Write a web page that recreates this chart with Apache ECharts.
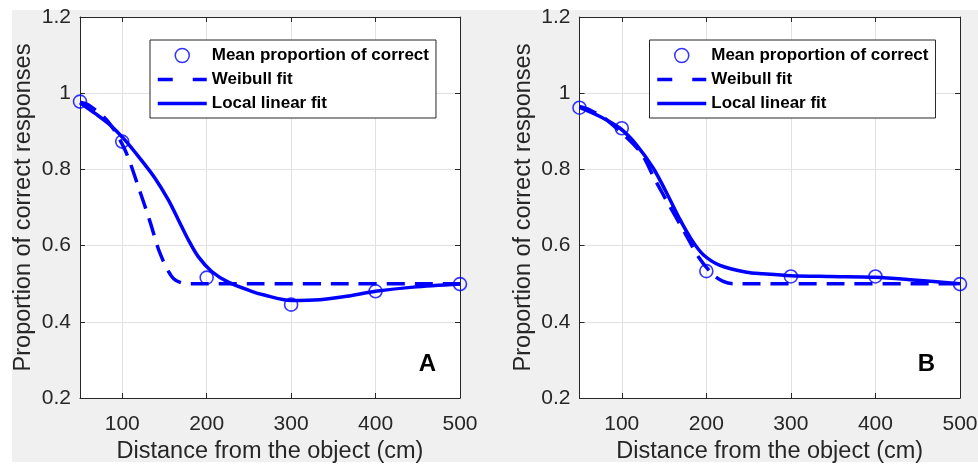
<!DOCTYPE html>
<html>
<head>
<meta charset="utf-8">
<script src="https://cdn.jsdelivr.net/npm/echarts@6/dist/echarts.min.js"></script>
<style>
  html, body { margin: 0; padding: 0; background: #ffffff; }
  #wrap { position: relative; width: 978px; height: 466px; background: #ffffff; overflow: hidden; }
  #bg { position: absolute; left: 12px; top: 10px; width: 966px; height: 452px; background: #f0f0f0; }
  #chart { position: absolute; left: 0; top: 0; width: 978px; height: 466px; }
</style>
</head>
<body>
<div id="wrap"><div id="bg"></div><div id="chart"></div></div>
<script>
// ---------------- data ----------------
const distances = [50, 100, 200, 300, 400, 500];
const meanA = [0.978, 0.873, 0.516, 0.445, 0.480, 0.499];
const meanB = [0.962, 0.908, 0.533, 0.519, 0.519, 0.499];

const weibullXA = [50, 60, 83.5, 103.3, 119, 132.9, 144.7, 158.6, 170.4, 182, 250, 350, 500];
const weibullYA = [0.976, 0.969, 0.925, 0.851, 0.755, 0.663, 0.580, 0.519, 0.502, 0.500, 0.500, 0.500, 0.500];

const localXA = [50, 67.8, 85.5, 103.3, 121, 138.8, 154.6, 166.4, 178.3, 190, 206, 225.6, 253.3, 267, 300, 334, 365.8, 400, 444.7, 500];
const localYA = [0.975, 0.947, 0.917, 0.877, 0.829, 0.777, 0.720, 0.668, 0.615, 0.571, 0.532, 0.504, 0.480, 0.471, 0.456, 0.458, 0.467, 0.480, 0.491, 0.499];

const weibullXB = [50, 62.4, 82.2, 121.5, 139.3, 157, 174.8, 190.5, 208.2, 220, 232, 350, 500];
const weibullYB = [0.965, 0.956, 0.930, 0.847, 0.773, 0.702, 0.633, 0.571, 0.523, 0.506, 0.500, 0.500, 0.500];

const localXB = [50, 74.2, 97.9, 117.6, 137.3, 153.1, 168.9, 182.7, 196.4, 216.2, 247.7, 267, 300, 346, 400, 444.7, 500];
const localYB = [0.963, 0.939, 0.908, 0.864, 0.803, 0.738, 0.668, 0.615, 0.576, 0.548, 0.530, 0.526, 0.521, 0.519, 0.517, 0.510, 0.500];

const xTickValues = [100, 200, 300, 400, 500];
const yTickValues = [0.2, 0.4, 0.6, 0.8, 1.0, 1.2];
const panelLetters = ['A', 'B'];
const legendNames = ['Mean proportion of correct', 'Weibull fit', 'Local linear fit'];
const xTitle = 'Distance from the object (cm)';
const yTitle = 'Proportion of correct responses';

// ---------------- styling ----------------
const FONT = '"Liberation Sans", Arial, Helvetica, sans-serif';
const AXIS = '#262626';
const GRIDC = '#e2e2e2';
const BLUE = '#0000ff';

function pairs(xs, ys) { return xs.map((x, i) => [x, ys[i]]); }

const grids = [
  { left: 80, right: 518, top: 17, bottom: 68 },
  { left: 579.5, right: 18, top: 17, bottom: 68 }
];
const legendLefts = [150, 649.5];
const letterPos = [[427.5, 364], [926.5, 364]];

const xAxes = [], yAxes = [], series = [], legends = [], graphics = [];
const seriesData = [
  { mean: meanA, wx: weibullXA, wy: weibullYA, lx: localXA, ly: localYA },
  { mean: meanB, wx: weibullXB, wy: weibullYB, lx: localXB, ly: localYB }
];

grids.forEach((g, gi) => {
  xAxes.push({
    type: 'value', gridIndex: gi, position: 'bottom', min: 50, max: 500,
    axisLine: { show: true, onZero: false, lineStyle: { color: AXIS, width: 1 } },
    axisTick: { show: true, inside: true, length: 5, customValues: xTickValues, lineStyle: { color: AXIS } },
    axisLabel: { show: true, customValues: xTickValues, fontSize: 21, color: AXIS, fontFamily: FONT, margin: 16 },
    splitLine: { show: true, lineStyle: { color: GRIDC, width: 1 } },
    name: xTitle, nameLocation: 'middle', nameGap: 41,
    nameTextStyle: { fontSize: 23.5, color: AXIS, fontFamily: FONT }
  });
  xAxes.push({
    type: 'value', gridIndex: gi, position: 'top', min: 50, max: 500,
    axisLine: { show: true, onZero: false, lineStyle: { color: AXIS, width: 1 } },
    axisTick: { show: true, inside: true, length: 5, customValues: xTickValues, lineStyle: { color: AXIS } },
    axisLabel: { show: false, customValues: xTickValues },
    splitLine: { show: false }
  });
  yAxes.push({
    type: 'value', gridIndex: gi, position: 'left', min: 0.2, max: 1.2, interval: 0.2,
    axisLine: { show: true, onZero: false, lineStyle: { color: AXIS, width: 1 } },
    axisTick: { show: true, inside: true, length: 5, lineStyle: { color: AXIS } },
    axisLabel: { show: true, fontSize: 21, color: AXIS, fontFamily: FONT, margin: 9,
      formatter: v => String(Math.round(v * 10) / 10) },
    splitLine: { show: true, lineStyle: { color: GRIDC, width: 1 } },
    name: yTitle, nameLocation: 'middle', nameGap: 44,
    nameTextStyle: { fontSize: 23.5, color: AXIS, fontFamily: FONT }
  });
  yAxes.push({
    type: 'value', gridIndex: gi, position: 'right', min: 0.2, max: 1.2, interval: 0.2,
    axisLine: { show: true, onZero: false, lineStyle: { color: AXIS, width: 1 } },
    axisTick: { show: true, inside: true, length: 5, lineStyle: { color: AXIS } },
    axisLabel: { show: false },
    splitLine: { show: false }
  });

  const d = seriesData[gi];
  const xi = gi * 2, yi = gi * 2;
  series.push({
    type: 'scatter', name: legendNames[0], xAxisIndex: xi, yAxisIndex: yi,
    data: pairs(distances, d.mean), symbol: 'circle', symbolSize: 13,
    itemStyle: { color: 'rgba(255,255,255,0)', borderColor: BLUE, borderWidth: 1.6 },
    z: 2
  });
  series.push({
    type: 'line', name: legendNames[1], xAxisIndex: xi, yAxisIndex: yi,
    data: pairs(d.wx, d.wy), symbol: 'none', showSymbol: false, smooth: 0.3,
    lineStyle: { color: BLUE, width: 3.5, type: [18, 10] },
    itemStyle: { color: BLUE }, z: 3
  });
  series.push({
    type: 'line', name: legendNames[2], xAxisIndex: xi, yAxisIndex: yi,
    data: pairs(d.lx, d.ly), symbol: 'none', showSymbol: false, smooth: 0.3,
    lineStyle: { color: BLUE, width: 3.5, type: 'solid' },
    itemStyle: { color: BLUE }, z: 4
  });

  const hiddenSym = { color: 'rgba(0,0,0,0)', borderColor: 'rgba(0,0,0,0)', borderWidth: 0, opacity: 0 };
  legends.push({
    left: legendLefts[gi], top: 40, orient: 'vertical',
    itemWidth: 49, itemHeight: 14, itemGap: 7,
    padding: [7, 7, 6, 6],
    backgroundColor: '#ffffff', borderColor: AXIS, borderWidth: 1, borderRadius: 0,
    selectedMode: false,
    textStyle: { fontSize: 17, fontWeight: 'bold', color: '#000', fontFamily: FONT, lineHeight: 14 },
    lineStyle: { width: 3.5 },
    data: [
      { name: legendNames[0], itemStyle: { borderWidth: 1.5 } },
      { name: legendNames[1], lineStyle: { type: [15, 20], width: 3.5 }, itemStyle: hiddenSym },
      { name: legendNames[2], lineStyle: { width: 3.5 }, itemStyle: hiddenSym }
    ]
  });

  graphics.push({
    type: 'text', x: letterPos[gi][0], y: letterPos[gi][1], z: 100,
    style: { text: panelLetters[gi], font: 'bold 24px ' + FONT, fill: '#000', align: 'center', verticalAlign: 'middle' }
  });
});

const chart = echarts.init(document.getElementById('chart'), null, { renderer: 'canvas' });
chart.setOption({
  animation: false,
  backgroundColor: 'transparent',
  textStyle: { fontFamily: FONT },
  grid: grids.map(g => Object.assign({ show: true, backgroundColor: '#ffffff', borderWidth: 0, containLabel: false, outerBoundsMode: 'none' }, g)),
  xAxis: xAxes,
  yAxis: yAxes,
  legend: legends,
  series: series,
  graphic: graphics
});
</script>
</body>
</html>
